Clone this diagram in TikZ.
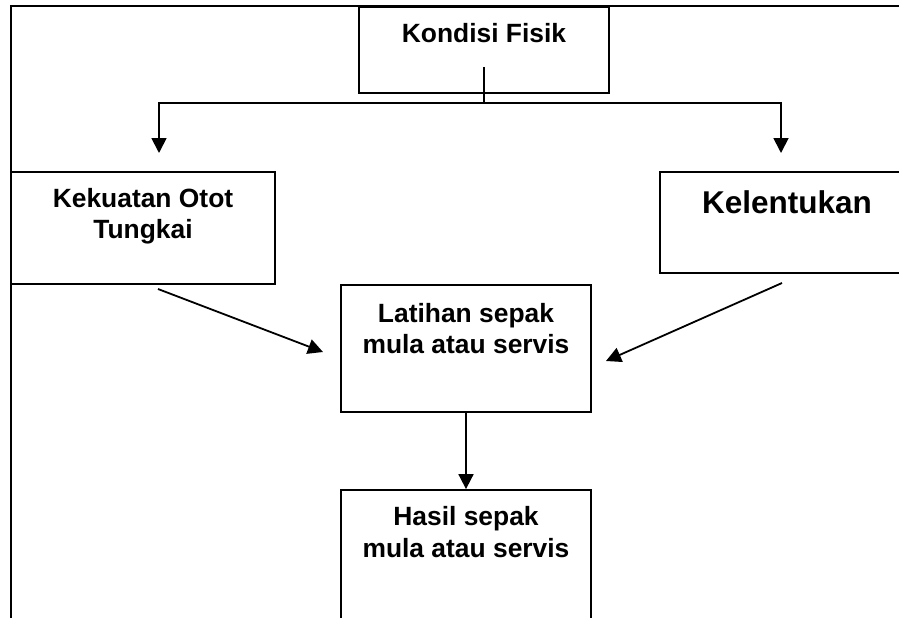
\documentclass[tikz,border=0pt]{standalone}
\usepackage{fontspec}
\setmainfont{Liberation Sans}
\usetikzlibrary{arrows.meta}
\begin{document}
\begin{tikzpicture}[x=1pt,y=-1pt,
  box/.style={draw, line width=1.8pt, inner sep=0pt, minimum width=#1},
  lbl/.style={anchor=base, inner sep=0pt, font=\bfseries\fontsize{26.4}{31}\selectfont},
  biglbl/.style={anchor=base, inner sep=0pt, font=\bfseries\fontsize{31.5}{38}\selectfont},
  conn/.style={line width=1.8pt},
  arr/.style={line width=1.8pt, -{Triangle[length=15pt,width=15pt]}}]
\useasboundingbox (0,0) rectangle (899,618);
\clip (0,0) rectangle (899,618);
% outer frame
\node[box=949pt, minimum height=694pt] (frame) at (485.5,353) {};
% boxes
\node[box=250pt, minimum height=86pt] (kf) at (484,50) {};
\node[box=264pt, minimum height=112pt] (kk) at (143,228) {};
\node[box=300pt, minimum height=101pt] (kl) at (810,222.5) {};
\node[box=250pt, minimum height=127pt] (lt) at (466,348.5) {};
\node[box=250pt, minimum height=170pt] (hs) at (466,575) {};
% texts
\node[lbl] (tkf) at (484,43) {Kondisi Fisik};
\node[lbl] (tkk1) at (143,207) {Kekuatan Otot};
\node[lbl] (tkk2) at (143,238) {Tungkai};
\node[biglbl] (tkl) at (787,213) {Kelentukan};
\node[lbl] (tlt1) at (466,322) {Latihan sepak};
\node[lbl] (tlt2) at (466,353) {mula atau servis};
\node[lbl] (ths1) at (466,525) {Hasil sepak};
\node[lbl] (ths2) at (466,557) {mula atau servis};
% connectors
\coordinate (kfs) at (484,67);
\coordinate (j) at (484,103);
\coordinate (a1) at (159,153);
\coordinate (a2) at (781,153);
\coordinate (k1) at (158,289);
\coordinate (k2) at (323,352);
\coordinate (l1) at (782,283);
\coordinate (l2) at (606,361);
\draw[conn] (kfs) -- (j);
\draw[arr] (j) -| (a1);
\draw[arr] (j) -| (a2);
\draw[arr] (k1) -- (k2);
\draw[arr] (l1) -- (l2);
\draw[arr] (lt.south) -- (hs.north);
\end{tikzpicture}
\end{document}
